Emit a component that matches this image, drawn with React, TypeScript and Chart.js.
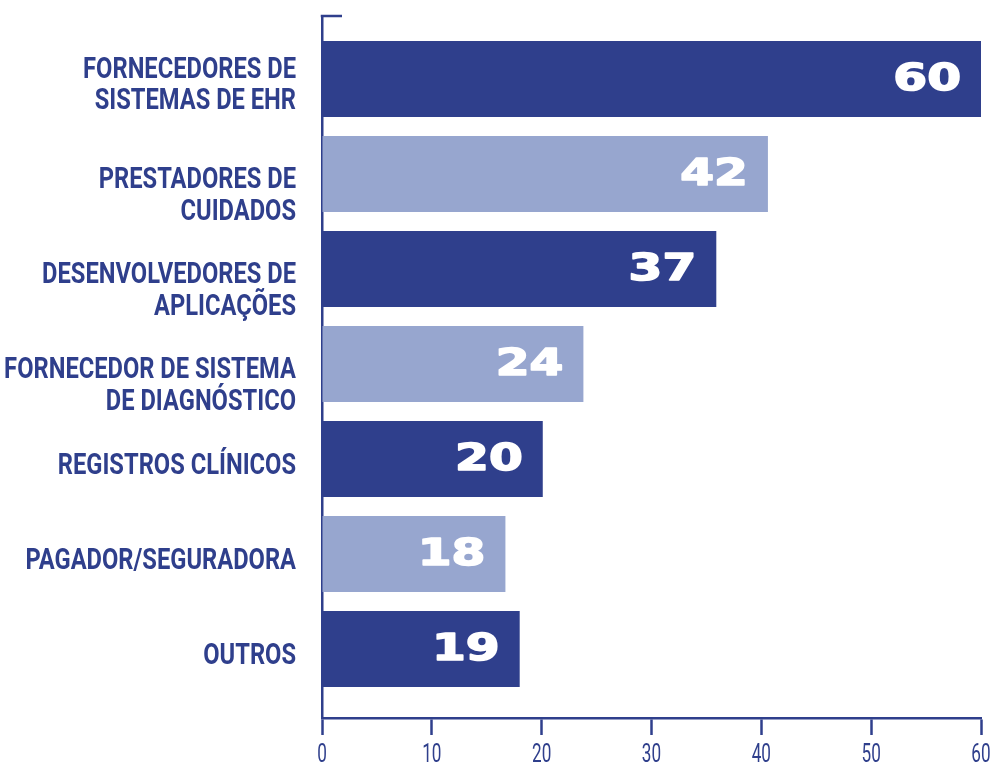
import React, { useEffect, useRef } from "react";
import { Chart, registerables } from "chart.js";

Chart.register(...registerables);

const categories: string[][] = [
  ["FORNECEDORES DE", "SISTEMAS DE EHR"],
  ["PRESTADORES DE", "CUIDADOS"],
  ["DESENVOLVEDORES DE", "APLICAÇÕES"],
  ["FORNECEDOR DE SISTEMA", "DE DIAGNÓSTICO"],
  ["REGISTROS CLÍNICOS"],
  ["PAGADOR/SEGURADORA"],
  ["OUTROS"],
];
const barValues: number[] = [60, 40.6, 35.9, 23.8, 20.1, 16.7, 18.0];
const valueLabels: string[] = ["60", "42", "37", "24", "20", "18", "19"];
const xTicks: number[] = [0, 10, 20, 30, 40, 50, 60];

// style only: whether a two-line label is centred on its bar (true) or starts at the bar centre (false)
const labelCentred: boolean[] = [true, false, false, false, true, true, true];

const NAVY = "#2f3f8c";
const LIGHT = "#97a6cf";
const barColors = barValues.map((_, i) => (i % 2 === 0 ? NAVY : LIGHT));

const LINE_PITCH = 31.5;
const CAP = 21.5;

const textPlugin = {
  id: "texts",
  afterDatasetsDraw(chart: any) {
    const ctx = chart.ctx;
    const meta = chart.getDatasetMeta(0);
    ctx.save();
    ctx.fillStyle = "#ffffff";
    ctx.strokeStyle = "#ffffff";
    ctx.lineWidth = 1.6;
    ctx.lineJoin = "round";
    ctx.font = 'bold 38px "DejaVu Sans", sans-serif';
    ctx.textAlign = "right";
    ctx.textBaseline = "middle";
    meta.data.forEach((bar: any, i: number) => {
      ctx.save();
      ctx.translate(bar.x - 20, bar.y + 1);
      ctx.scale(1.28, 1);
      ctx.fillText(valueLabels[i], 0, 0);
      ctx.strokeText(valueLabels[i], 0, 0);
      ctx.restore();
    });
    ctx.restore();
  },
  afterDraw(chart: any) {
    const { ctx, chartArea } = chart;
    const yScale = chart.scales.y;
    const xScale = chart.scales.x;
    ctx.save();
    // top stub of the y axis
    ctx.strokeStyle = NAVY;
    ctx.lineWidth = 2.5;
    ctx.beginPath();
    ctx.moveTo(chartArea.left - 1.25, chartArea.top);
    ctx.lineTo(chartArea.left + 20, chartArea.top);
    ctx.stroke();

    // category labels
    ctx.fillStyle = NAVY;
    ctx.font = "bold 30px Roboto, sans-serif";
    ctx.textAlign = "right";
    ctx.textBaseline = "alphabetic";
    categories.forEach((lines, i) => {
      const c = yScale.getPixelForValue(i);
      let first = c + 4;
      if (lines.length > 1) {
        first = labelCentred[i] ? c + 4 - ((lines.length - 1) * LINE_PITCH) / 2 : c + 3.5;
      }
      lines.forEach((line, j) => {
        ctx.save();
        ctx.translate(chartArea.left - 26, first + j * LINE_PITCH + CAP / 2);
        ctx.scale(0.79, 1);
        ctx.fillText(line, 0, 0);
        ctx.restore();
      });
    });

    // x tick labels
    ctx.font = "26px Roboto, sans-serif";
    ctx.textAlign = "center";
    xTicks.forEach((t) => {
      ctx.save();
      ctx.translate(xScale.getPixelForValue(t), 762);
      ctx.scale(0.66, 1);
      ctx.fillText(String(t), 0, 0);
      ctx.restore();
    });
    ctx.restore();
  },
};

export default function App() {
  const ref = useRef<HTMLCanvasElement | null>(null);
  useEffect(() => {
    if (!ref.current) return;
    const chart = new Chart(ref.current, {
      type: "bar",
      data: {
        datasets: [
          {
            data: barValues.map((v, i) => ({ x: v, y: i })),
            backgroundColor: barColors,
            barPercentage: 0.8,
            categoryPercentage: 1,
          },
        ],
      },
      options: {
        indexAxis: "y",
        responsive: false,
        animation: false,
        layout: { padding: { top: 16, right: 17, left: 0, bottom: 0 } },
        plugins: { legend: { display: false }, tooltip: { enabled: false } },
        scales: {
          x: {
            type: "linear",
            min: 0,
            max: 60,
            afterBuildTicks: (scale: any) => {
              scale.ticks = xTicks.map((v) => ({ value: v }));
            },
            afterFit: (scale: any) => {
              scale.height = 47;
              scale.paddingLeft = 0;
              scale.paddingRight = 0;
            },
            grid: {
              drawOnChartArea: false,
              drawTicks: true,
              tickLength: 17,
              tickColor: NAVY,
              tickWidth: 2.5,
            },
            border: { display: true, color: NAVY, width: 2.5 },
            ticks: { display: false },
          },
          y: {
            type: "linear",
            min: -0.663,
            max: 6.726,
            reverse: true,
            offset: false,
            afterBuildTicks: (scale: any) => {
              scale.ticks = categories.map((_, i) => ({ value: i }));
            },
            afterFit: (scale: any) => {
              scale.width = 322;
              scale.paddingTop = 0;
              scale.paddingBottom = 0;
            },
            grid: { drawOnChartArea: false, drawTicks: false, offset: false },
            border: { display: true, color: NAVY, width: 2.5 },
            ticks: { display: false },
          },
        },
      },
      plugins: [textPlugin],
    });
    return () => chart.destroy();
  }, []);
  return (
    <div style={{ position: "absolute", left: 0, top: 0, width: 998, height: 765, background: "#fff" }}>
      <canvas ref={ref} width={998} height={765} style={{ display: "block" }} />
    </div>
  );
}
